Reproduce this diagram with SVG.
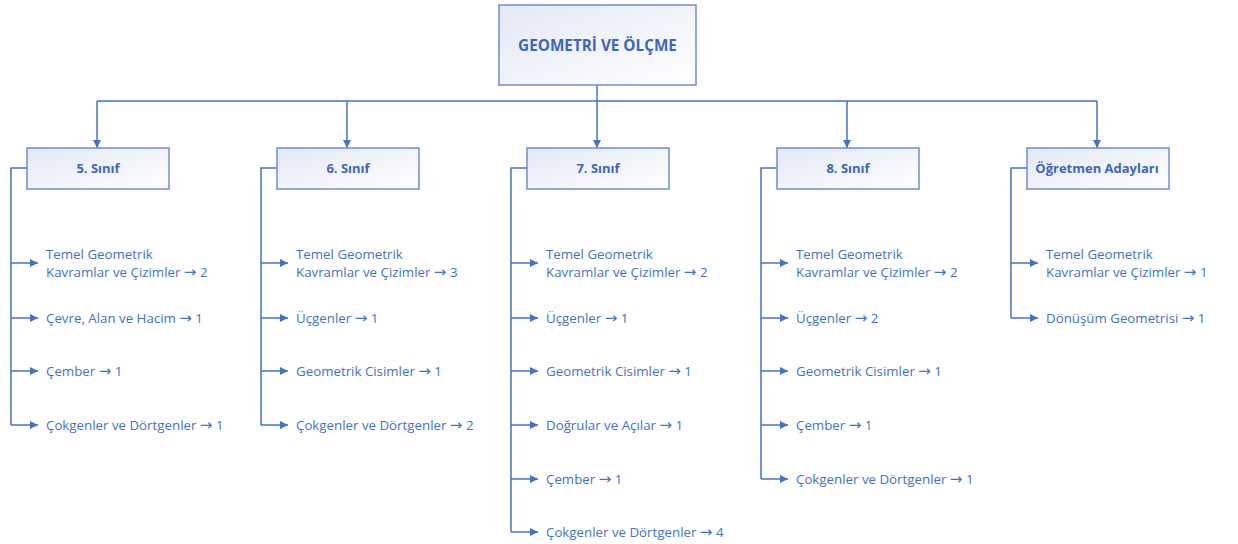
<svg xmlns="http://www.w3.org/2000/svg" width="1238" height="544" viewBox="0 0 1238 544">
  <defs>
    <linearGradient id="boxFill" x1="0" y1="0" x2="1" y2="1">
      <stop offset="0" stop-color="#E3E8F5"/>
      <stop offset="1" stop-color="#FFFFFF"/>
    </linearGradient>
    <marker id="arrow" viewBox="0 0 10 10" refX="10" refY="5" markerWidth="8" markerHeight="8" markerUnits="userSpaceOnUse" orient="auto">
      <path d="M0,0 L10,5 L0,10 Z" fill="#4472C4"/>
    </marker>
  </defs>
  <style>
    .box { fill: url(#boxFill); stroke: #6E8ED0; stroke-width: 1.5; }
    .title { font-family: "Open Sans", "Liberation Sans", sans-serif; font-weight: bold; fill: #3F66B8; text-anchor: middle; }
    .item { font-family: "Open Sans", "Liberation Sans", sans-serif; font-size: 13.3px; fill: #4472C4; }
    .ar { font-family: "DejaVu Sans", sans-serif; font-size: 15px; }
    .line { fill: none; stroke: #4472C4; stroke-width: 1.5; }
    .arr { fill: none; stroke: #4472C4; stroke-width: 1.5; marker-end: url(#arrow); }
  </style>
  <rect width="1238" height="544" fill="#FFFFFF"/>

  <!-- connectors -->
  <g id="connectors">
    <path class="line" d="M597,85 V101 M97,101 H1097"/>
    <path class="arr" d="M97,101 V148"/>
    <path class="arr" d="M347,101 V148"/>
    <path class="arr" d="M597,101 V148"/>
    <path class="arr" d="M847,101 V148"/>
    <path class="arr" d="M1097,101 V148"/>

    <!-- 5. Sınıf branch -->
    <path class="line" d="M27,168 H11 V425"/>
    <path class="arr" d="M11,263 H38"/>
    <path class="arr" d="M11,318 H38"/>
    <path class="arr" d="M11,371 H38"/>
    <path class="arr" d="M11,425 H38"/>

    <!-- 6. Sınıf branch -->
    <path class="line" d="M277,168 H261 V425"/>
    <path class="arr" d="M261,263 H288"/>
    <path class="arr" d="M261,318 H288"/>
    <path class="arr" d="M261,371 H288"/>
    <path class="arr" d="M261,425 H288"/>

    <!-- 7. Sınıf branch -->
    <path class="line" d="M527,168 H511 V532"/>
    <path class="arr" d="M511,263 H538"/>
    <path class="arr" d="M511,318 H538"/>
    <path class="arr" d="M511,371 H538"/>
    <path class="arr" d="M511,425 H538"/>
    <path class="arr" d="M511,479 H538"/>
    <path class="arr" d="M511,532 H538"/>

    <!-- 8. Sınıf branch -->
    <path class="line" d="M777,168 H761 V479"/>
    <path class="arr" d="M761,263 H788"/>
    <path class="arr" d="M761,318 H788"/>
    <path class="arr" d="M761,371 H788"/>
    <path class="arr" d="M761,425 H788"/>
    <path class="arr" d="M761,479 H788"/>

    <!-- Öğretmen Adayları branch -->
    <path class="line" d="M1027,168 H1011 V318"/>
    <path class="arr" d="M1011,263 H1038"/>
    <path class="arr" d="M1011,318 H1038"/>
  </g>

  <!-- root -->
  <g id="root">
    <rect class="box" x="499" y="5" width="197" height="80"/>
    <text class="title" x="597.5" y="51" font-size="15.3">GEOMETRİ VE ÖLÇME</text>
  </g>

  <!-- level nodes -->
  <g id="grade5">
    <rect class="box" x="27" y="148" width="142" height="41"/>
    <text class="title" x="98" y="173" font-size="13">5. Sınıf</text>
  </g>
  <g id="grade6">
    <rect class="box" x="277" y="148" width="142" height="41"/>
    <text class="title" x="348" y="173" font-size="13">6. Sınıf</text>
  </g>
  <g id="grade7">
    <rect class="box" x="527" y="148" width="142" height="41"/>
    <text class="title" x="598" y="173" font-size="13">7. Sınıf</text>
  </g>
  <g id="grade8">
    <rect class="box" x="777" y="148" width="142" height="41"/>
    <text class="title" x="848" y="173" font-size="13">8. Sınıf</text>
  </g>
  <g id="teachers">
    <rect class="box" x="1027" y="148" width="142" height="41"/>
    <text class="title" x="1097" y="173" font-size="13">Öğretmen Adayları</text>
  </g>

  <!-- topic lists -->
  <g id="topics5">
    <text class="item" x="46" y="259">Temel Geometrik</text>
    <text class="item" x="46" y="277">Kavramlar ve Çizimler <tspan class="ar">→</tspan> 2</text>
    <text class="item" x="46" y="323">Çevre, Alan ve Hacim <tspan class="ar">→</tspan> 1</text>
    <text class="item" x="46" y="376">Çember <tspan class="ar">→</tspan> 1</text>
    <text class="item" x="46" y="430">Çokgenler ve Dörtgenler <tspan class="ar">→</tspan> 1</text>
  </g>
  <g id="topics6">
    <text class="item" x="296" y="259">Temel Geometrik</text>
    <text class="item" x="296" y="277">Kavramlar ve Çizimler <tspan class="ar">→</tspan> 3</text>
    <text class="item" x="296" y="323">Üçgenler  <tspan class="ar">→</tspan> 1</text>
    <text class="item" x="296" y="376">Geometrik Cisimler <tspan class="ar">→</tspan> 1</text>
    <text class="item" x="296" y="430">Çokgenler ve Dörtgenler <tspan class="ar">→</tspan> 2</text>
  </g>
  <g id="topics7">
    <text class="item" x="546" y="259">Temel Geometrik</text>
    <text class="item" x="546" y="277">Kavramlar ve Çizimler <tspan class="ar">→</tspan> 2</text>
    <text class="item" x="546" y="323">Üçgenler  <tspan class="ar">→</tspan> 1</text>
    <text class="item" x="546" y="376">Geometrik Cisimler <tspan class="ar">→</tspan> 1</text>
    <text class="item" x="546" y="430">Doğrular ve Açılar <tspan class="ar">→</tspan> 1</text>
    <text class="item" x="546" y="484">Çember <tspan class="ar">→</tspan> 1</text>
    <text class="item" x="546" y="537">Çokgenler ve Dörtgenler <tspan class="ar">→</tspan> 4</text>
  </g>
  <g id="topics8">
    <text class="item" x="796" y="259">Temel Geometrik</text>
    <text class="item" x="796" y="277">Kavramlar ve Çizimler <tspan class="ar">→</tspan> 2</text>
    <text class="item" x="796" y="323">Üçgenler  <tspan class="ar">→</tspan> 2</text>
    <text class="item" x="796" y="376">Geometrik Cisimler <tspan class="ar">→</tspan> 1</text>
    <text class="item" x="796" y="430">Çember <tspan class="ar">→</tspan> 1</text>
    <text class="item" x="796" y="484">Çokgenler ve Dörtgenler <tspan class="ar">→</tspan> 1</text>
  </g>
  <g id="topicsTeachers">
    <text class="item" x="1046" y="259">Temel Geometrik</text>
    <text class="item" x="1046" y="277">Kavramlar ve Çizimler <tspan class="ar">→</tspan> 1</text>
    <text class="item" x="1046" y="323">Dönüşüm Geometrisi <tspan class="ar">→</tspan> 1</text>
  </g>
</svg>
